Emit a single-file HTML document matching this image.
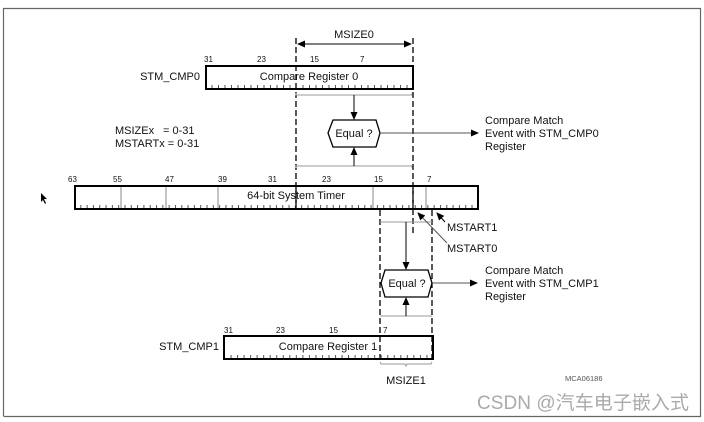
<!DOCTYPE html>
<html><head><meta charset="utf-8"><style>
html,body{margin:0;padding:0;background:#fff;}
svg{display:block;}
text{font-family:"Liberation Sans",Arial,sans-serif;fill:#111;}
</style></head><body>
<svg width="704" height="422" viewBox="0 0 704 422" xmlns="http://www.w3.org/2000/svg">
<defs>
<pattern id="t0" x="205" y="0" width="6.5" height="422" patternUnits="userSpaceOnUse"><line x1="0.5" y1="0" x2="0.5" y2="422" stroke="#555" stroke-width="1"/></pattern>
<pattern id="t1" x="224" y="0" width="6.53" height="422" patternUnits="userSpaceOnUse"><line x1="0.5" y1="0" x2="0.5" y2="422" stroke="#555" stroke-width="1"/></pattern>
<pattern id="tt" x="74" y="0" width="6.31" height="422" patternUnits="userSpaceOnUse"><line x1="0.5" y1="0" x2="0.5" y2="422" stroke="#555" stroke-width="1"/></pattern>
<marker id="ar" markerWidth="8" markerHeight="8" refX="7" refY="4" orient="auto" markerUnits="userSpaceOnUse"><path d="M0,0.5 L8,4 L0,7.5 z" fill="#000"/></marker>
</defs>
<path d="M3.5,416 L3.5,8.5 L700.5,8.5 L700.5,416.5 L3.5,416.5" fill="none" stroke="#666" stroke-width="1.2"/>

<text x="354" y="38" font-size="11" text-anchor="middle">MSIZE0</text>
<line x1="298" y1="44" x2="411" y2="44" stroke="#000" marker-end="url(#ar)"/>
<path d="M305,40.5 L297,44 L305,47.5z" fill="#000"/>
<line x1="296" y1="38" x2="296" y2="208" stroke="#000" stroke-width="1.3" stroke-dasharray="6,3"/>
<line x1="413" y1="38" x2="413" y2="234" stroke="#000" stroke-width="1.3" stroke-dasharray="6,3"/>

<g font-size="8" fill="#333"><text x="204" y="62">31</text><text x="257" y="62">23</text><text x="310" y="62">15</text><text x="360" y="62">7</text></g>
<text x="200" y="80" font-size="11" text-anchor="end">STM_CMP0</text>
<rect x="206" y="85" width="206" height="3" fill="url(#t0)"/>
<rect x="206" y="66" width="207" height="23" fill="none" stroke="#000" stroke-width="2"/>
<text x="309" y="80" font-size="11" text-anchor="middle">Compare Register 0</text>
<path d="M296,93 L296,95 L412,95 L412,93" fill="none" stroke="#999"/>
<line x1="354" y1="95" x2="354" y2="119" stroke="#000" marker-end="url(#ar)"/>
<polygon points="333,120 376,120 380,133 376,147 333,147 328,133" fill="#fff" stroke="#000" stroke-width="1.3"/>
<text x="354" y="137" font-size="11" text-anchor="middle">Equal ?</text>
<line x1="380" y1="133" x2="478" y2="133" stroke="#555" marker-end="url(#ar)"/>
<g font-size="11"><text x="485" y="124">Compare Match</text><text x="485" y="137">Event with STM_CMP0</text><text x="485" y="150">Register</text></g>
<path d="M296,168 L296,166 L412,166 L412,168" fill="none" stroke="#999"/>
<line x1="354" y1="166" x2="354" y2="148" stroke="#000" marker-end="url(#ar)"/>

<g font-size="11"><text x="115" y="134">MSIZEx</text><text x="163" y="134">= 0-31</text><text x="115" y="147">MSTARTx = 0-31</text></g>

<g font-size="8" fill="#333"><text x="68" y="182">63</text><text x="113" y="182">55</text><text x="165" y="182">47</text><text x="218" y="182">39</text><text x="268" y="182">31</text><text x="322" y="182">23</text><text x="374" y="182">15</text><text x="427" y="182">7</text></g>
<rect x="75" y="205" width="402" height="3" fill="url(#tt)"/>
<g stroke="#888"><line x1="121" y1="187" x2="121" y2="208"/><line x1="166" y1="187" x2="166" y2="208"/><line x1="218" y1="187" x2="218" y2="208"/><line x1="373" y1="187" x2="373" y2="208"/><line x1="426" y1="187" x2="426" y2="208"/></g>
<rect x="75" y="186" width="403" height="23" fill="none" stroke="#000" stroke-width="2"/>
<text x="296" y="199" font-size="11" text-anchor="middle">64-bit System Timer</text>
<line x1="296" y1="188" x2="296" y2="208" stroke="#000" stroke-width="1.3" stroke-dasharray="6,3"/>
<line x1="413" y1="188" x2="413" y2="208" stroke="#000" stroke-width="1.3" stroke-dasharray="6,3"/>

<path d="M41,193 L41,202 L43,200 L45,204 L46,203 L44,199 L47,199z" fill="#000"/>

<line x1="380" y1="210" x2="380" y2="360" stroke="#000" stroke-width="1.3" stroke-dasharray="6,3"/>
<line x1="432" y1="210" x2="432" y2="360" stroke="#000" stroke-width="1.3" stroke-dasharray="6,3"/>
<line x1="380" y1="222" x2="432" y2="222" stroke="#999"/>
<line x1="406" y1="222" x2="406" y2="269" stroke="#000" marker-end="url(#ar)"/>
<line x1="445" y1="222" x2="437" y2="213" stroke="#000" marker-end="url(#ar)"/>
<line x1="447" y1="243" x2="418" y2="213" stroke="#555" marker-end="url(#ar)"/>
<g font-size="11"><text x="447" y="231">MSTART1</text><text x="447" y="252">MSTART0</text></g>
<polygon points="385,270 428,270 432,283 428,297 385,297 381,283" fill="#fff" stroke="#000" stroke-width="1.3"/>
<text x="407" y="287" font-size="11" text-anchor="middle">Equal ?</text>
<line x1="432" y1="283" x2="477" y2="283" stroke="#555" marker-end="url(#ar)"/>
<g font-size="11"><text x="485" y="274">Compare Match</text><text x="485" y="287">Event with STM_CMP1</text><text x="485" y="300">Register</text></g>
<line x1="380" y1="316" x2="432" y2="316" stroke="#999"/>
<line x1="406" y1="316" x2="406" y2="298" stroke="#000" marker-end="url(#ar)"/>

<g font-size="8" fill="#333"><text x="224" y="333">31</text><text x="276" y="333">23</text><text x="329" y="333">15</text><text x="383" y="333">7</text></g>
<text x="219" y="350" font-size="11" text-anchor="end">STM_CMP1</text>
<rect x="225" y="355" width="207" height="3" fill="url(#t1)"/>
<rect x="224" y="336" width="209" height="23" fill="none" stroke="#000" stroke-width="2"/>
<text x="328" y="350" font-size="11" text-anchor="middle">Compare Register 1</text>
<path d="M380,362 L381,364 L405,364 L406,366 L407,364 L431,364 L432,362" fill="none" stroke="#999"/>
<text x="406" y="384" font-size="11" text-anchor="middle">MSIZE1</text>
<text x="565" y="381" font-size="7.5" style="fill:#555">MCA06186</text>

<text x="477" y="409" font-size="19" textLength="212" style="fill:#aaa;font-family:'Liberation Sans','Noto Sans CJK SC',sans-serif">CSDN @汽车电子嵌入式</text>
</svg>
</body></html>
